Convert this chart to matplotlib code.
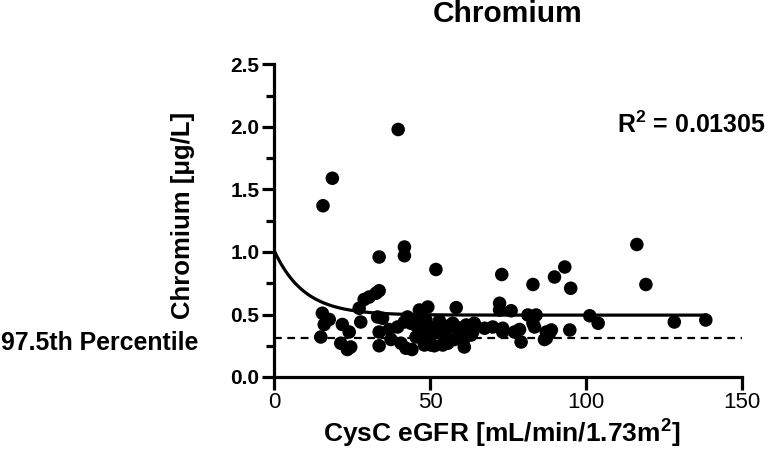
import numpy as np
import matplotlib
matplotlib.use("Agg")
import matplotlib.pyplot as plt
from matplotlib.ticker import MultipleLocator

plt.rcParams['font.family'] = ['Liberation Sans', 'DejaVu Sans']
plt.rcParams['mathtext.fontset'] = 'custom'
plt.rcParams['mathtext.rm'] = 'Liberation Sans:bold'
plt.rcParams['mathtext.it'] = 'Liberation Sans:bold'
plt.rcParams['mathtext.bf'] = 'Liberation Sans:bold'

# ---- data ----
egfr = [39.8, 18.7, 15.7, 116.3, 41.8, 41.8, 33.7, 51.9, 73.0, 93.2, 89.9, 83.0, 95.1, 119.2,
        33.7, 32.7, 30.5, 28.9, 27.3, 15.5, 17.7, 16.1, 15.0, 21.9, 24.1, 21.4, 24.6, 23.5,
        27.8, 33.2, 34.8, 33.7, 33.7, 36.9, 39.6, 37.5, 42.8, 41.8, 43.9, 45.0, 42.3, 44.2,
        40.7, 46.6, 49.3, 46.6, 48.7, 47.1, 49.8, 47.6, 49.3, 50.9, 52.5, 53.0, 54.1, 55.7,
        56.2, 57.3, 45.5, 48.2, 50.3, 51.4, 54.1, 55.7, 54.6, 57.8, 48.7, 58.4, 58.4, 60.0,
        61.6, 60.5, 61.0, 61.0, 63.2, 63.7, 64.2, 67.5, 70.1, 72.3, 72.3, 76.0, 73.3, 73.3,
        77.1, 79.2, 78.7, 81.4, 84.0, 83.0, 83.5, 87.3, 88.9, 88.3, 87.3, 86.7, 94.8, 101.2,
        103.9, 128.3, 138.4]
chromium = [1.98, 1.59, 1.37, 1.06, 1.04, 0.97, 0.96, 0.86, 0.82, 0.88, 0.80, 0.74, 0.71, 0.74,
            0.69, 0.67, 0.64, 0.62, 0.55, 0.51, 0.46, 0.42, 0.32, 0.42, 0.36, 0.27, 0.24, 0.22,
            0.44, 0.48, 0.47, 0.36, 0.25, 0.38, 0.40, 0.30, 0.48, 0.44, 0.43, 0.42, 0.23, 0.22,
            0.27, 0.536, 0.56, 0.48, 0.456, 0.40, 0.40, 0.336, 0.36, 0.35, 0.40, 0.45, 0.35, 0.39,
            0.41, 0.43, 0.32, 0.256, 0.256, 0.25, 0.256, 0.27, 0.31, 0.30, 0.28, 0.555, 0.40, 0.39,
            0.416, 0.336, 0.31, 0.24, 0.336, 0.36, 0.43, 0.39, 0.40, 0.59, 0.536, 0.53, 0.39, 0.36,
            0.36, 0.28, 0.38, 0.496, 0.496, 0.43, 0.40, 0.36, 0.376, 0.35, 0.31, 0.30, 0.376, 0.49,
            0.43, 0.44, 0.456]

# one-phase decay fit parameters
fit_y0 = 1.015
fit_plateau = 0.495
fit_k = 0.105
fit_xmax = 138.4

percentile_975 = 0.31
r_squared = "0.01305"

x_ticks = [0, 50, 100, 150]
y_ticks = [0.0, 0.5, 1.0, 1.5, 2.0, 2.5]

# ---- figure ----
W, H = 767, 462
fig = plt.figure(figsize=(W / 100, H / 100), dpi=100)
ax = fig.add_axes([274 / W, 1 - 377 / H, (742 - 274) / W, (377 - 64.5) / H])

ax.scatter(egfr, chromium, s=95, color='black', edgecolors='none', zorder=3, clip_on=False)

xf = np.linspace(0, fit_xmax, 300)
yf = fit_plateau + (fit_y0 - fit_plateau) * np.exp(-fit_k * xf)
ax.plot(xf, yf, color='black', lw=2.3, zorder=2)

ax.plot([0, 150], [percentile_975, percentile_975], color='black', lw=1.6,
        dashes=(3.5, 2.5), zorder=1, clip_on=False)

ax.set_xlim(0, 150)
ax.set_ylim(0, 2.5)
ax.set_xticks(x_ticks)
ax.set_xticklabels([str(v) for v in x_ticks])
ax.set_yticks(y_ticks)
ax.set_yticklabels([f"{v:.1f}" for v in y_ticks])
ax.yaxis.set_minor_locator(MultipleLocator(0.25))

for s in ['top', 'right']:
    ax.spines[s].set_visible(False)
for s in ['left', 'bottom']:
    ax.spines[s].set_linewidth(2.3)

ax.tick_params(axis='both', which='major', length=9, width=2.3, direction='out')
ax.tick_params(axis='y', which='minor', length=6, width=2.3, direction='out')
ax.tick_params(axis='y', labelsize=15, pad=1.5)
ax.tick_params(axis='x', labelsize=16, pad=1.5)
for lab in ax.get_yticklabels():
    lab.set_fontweight('bold')

ax.set_xlabel("CysC eGFR [mL/min/1.73m$^2$]", fontsize=19, fontweight='bold')
ax.xaxis.set_label_coords(0.486, -0.131)
ax.set_ylabel("Chromium [\u03bcg/L]", fontsize=18.5, fontweight='bold')
ax.yaxis.set_label_coords(-0.168, 0.518)

fig.text(508 / W, 1 - 14 / H, "Chromium", fontsize=21.5, fontweight='bold', ha='center', va='center')
fig.text(617 / W, 1 - 125 / H, "R$^2$ = " + r_squared, fontsize=18, fontweight='bold',
         ha='left', va='center')
fig.text(1 / W, 1 - 343 / H, "97.5th Percentile", fontsize=17.9, fontweight='bold',
         ha='left', va='center')

fig.savefig("out.png", dpi=100)
